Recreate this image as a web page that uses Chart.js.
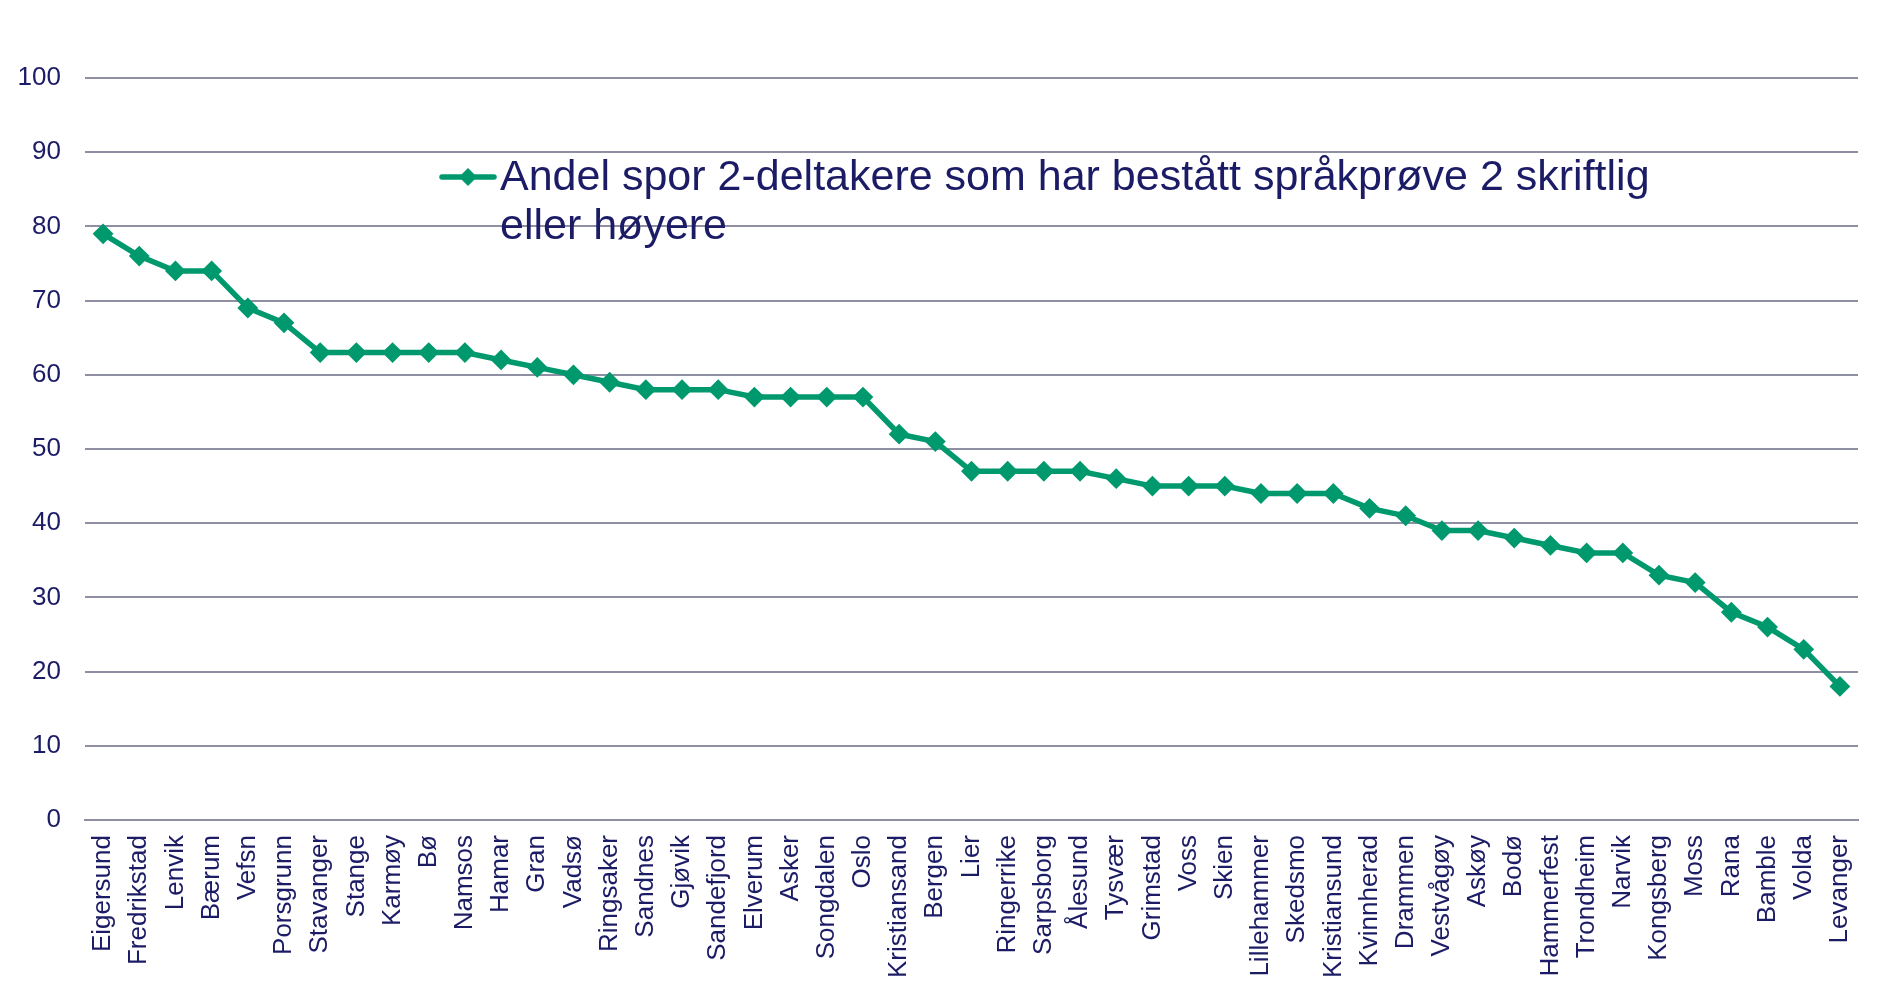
<!DOCTYPE html>
<html>
<head>
<meta charset="utf-8">
<title>Andel spor 2-deltakere</title>
<script src="https://cdn.jsdelivr.net/npm/chart.js@4"></script>
<style>
  html, body { margin: 0; padding: 0; background: #fff; }
  #wrap { width: 1897px; height: 985px; position: relative; }
</style>
</head>
<body>
<div id="wrap"><canvas id="andelChart"></canvas></div>
<script>
const kommuner = ['Eigersund', 'Fredrikstad', 'Lenvik', 'Bærum', 'Vefsn', 'Porsgrunn', 'Stavanger', 'Stange', 'Karmøy', 'Bø',
  'Namsos', 'Hamar', 'Gran', 'Vadsø', 'Ringsaker', 'Sandnes', 'Gjøvik', 'Sandefjord', 'Elverum', 'Asker',
  'Songdalen', 'Oslo', 'Kristiansand', 'Bergen', 'Lier', 'Ringerrike', 'Sarpsborg', 'Ålesund', 'Tysvær', 'Grimstad',
  'Voss', 'Skien', 'Lillehammer', 'Skedsmo', 'Kristiansund', 'Kvinnherad', 'Drammen', 'Vestvågøy', 'Askøy', 'Bodø',
  'Hammerfest', 'Trondheim', 'Narvik', 'Kongsberg', 'Moss', 'Rana', 'Bamble', 'Volda', 'Levanger'];

const andelBestatt = [79, 76, 74, 74, 69, 67, 63, 63, 63, 63,
  63, 62, 61, 60, 59, 58, 58, 58, 57, 57,
  57, 57, 52, 51, 47, 47, 47, 47, 46, 45,
  45, 45, 44, 44, 44, 42, 41, 39, 39, 38,
  37, 36, 36, 33, 32, 28, 26, 23, 18];

const yTicks = [0, 10, 20, 30, 40, 50, 60, 70, 80, 90, 100];

const serieNavn = 'Andel spor 2-deltakere som har bestått språkprøve 2 skriftlig eller høyere';

const gronn = '#00996e';
const tekstFarge = '#1c1c66';
const gridFarge = '#8f8fa3';
const fontNavn = '"Liberation Sans", Arial, sans-serif';

// egen legende, tegnet inne i plottet og brutt over to linjer
const legendePlugin = {
  id: 'legende',
  afterDraw(chart) {
    const ctx = chart.ctx;
    const ds = chart.data.datasets[0];
    ctx.save();
    ctx.font = '43px ' + fontNavn;
    ctx.fillStyle = tekstFarge;
    ctx.textBaseline = 'alphabetic';

    const ord = ds.label.split(' ');
    const linjer = [];
    let linje = '';
    ord.forEach(o => {
      const test = linje ? linje + ' ' + o : o;
      if (ctx.measureText(test).width > 1180 && linje) {
        linjer.push(linje);
        linje = o;
      } else {
        linje = test;
      }
    });
    linjer.push(linje);

    const x0 = 500, y0 = 190;
    linjer.forEach((l, i) => ctx.fillText(l, x0, y0 + i * 49));

    // linje + diamant
    ctx.strokeStyle = gronn;
    ctx.lineWidth = 5.5;
    ctx.lineCap = 'round';
    ctx.beginPath();
    ctx.moveTo(442, 177);
    ctx.lineTo(494, 177);
    ctx.stroke();
    ctx.fillStyle = gronn;
    ctx.beginPath();
    ctx.moveTo(468, 168);
    ctx.lineTo(477, 177);
    ctx.lineTo(468, 186);
    ctx.lineTo(459, 177);
    ctx.closePath();
    ctx.fill();
    ctx.restore();
  }
};

const ctx = document.getElementById('andelChart').getContext('2d');
const andelChart = new Chart(ctx, {
  type: 'line',
  data: {
    labels: kommuner,
    datasets: [{
      label: serieNavn,
      data: andelBestatt,
      borderColor: gronn,
      backgroundColor: gronn,
      borderWidth: 5.5,
      pointStyle: 'rectRot',
      pointRadius: 9,
      pointHoverRadius: 9,
      pointBorderWidth: 2,
      pointBorderColor: gronn,
      pointBackgroundColor: gronn,
      tension: 0,
      fill: false
    }]
  },
  options: {
    responsive: true,
    maintainAspectRatio: false,
    animation: false,
    layout: { padding: { top: 78, right: 39, left: 0, bottom: 0 } },
    plugins: {
      legend: { display: false },
      tooltip: { enabled: false }
    },
    scales: {
      x: {
        offset: true,
        grid: { display: false, drawTicks: false },
        border: { display: true, color: gridFarge, width: 2 },
        ticks: {
          autoSkip: false,
          minRotation: 90,
          maxRotation: 90,
          padding: 15,
          color: tekstFarge,
          font: { family: fontNavn, size: 26 }
        },
        afterFit(scale) { scale.height = 165; }
      },
      y: {
        min: 0,
        max: 100,
        afterBuildTicks(scale) { scale.ticks = yTicks.map(v => ({ value: v })); },
        grid: { color: gridFarge, lineWidth: 2, drawTicks: false },
        border: { display: false },
        ticks: {
          padding: 24,
          color: tekstFarge,
          font: { family: fontNavn, size: 26 }
        },
        afterFit(scale) { scale.width = 85; }
      }
    }
  },
  plugins: [legendePlugin]
});
</script>
</body>
</html>
